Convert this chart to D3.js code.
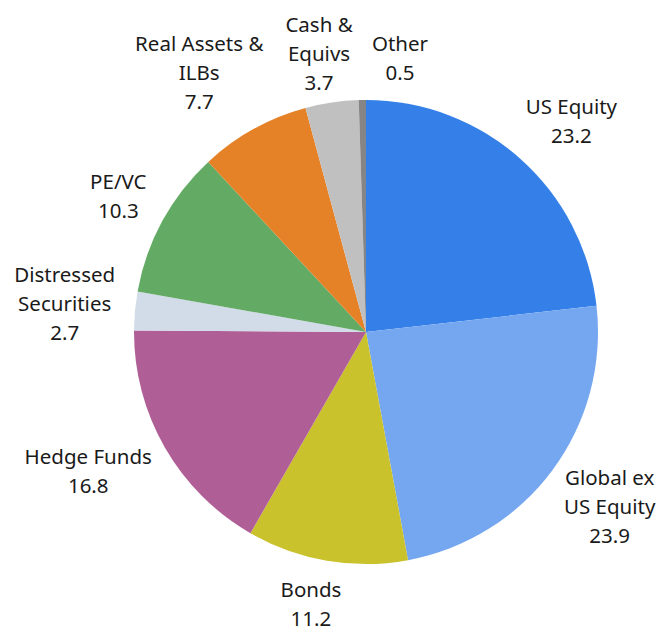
<!DOCTYPE html>
<html>
<head>
<meta charset="utf-8">
<script src="https://cdn.jsdelivr.net/npm/d3@7"></script>
<style>
  body { margin: 0; background: #fff; }
  text { font-family: "Noto Sans", Lato, sans-serif; font-size: 20.5px; fill: #1a1a1a; }
</style>
</head>
<body>
<div id="chart"></div>
<script>
// slice data, clockwise from 12 o'clock
var labels = [["US Equity"], ["Global ex", "US Equity"], ["Bonds"], ["Hedge Funds"],
  ["Distressed", "Securities"], ["PE/VC"], ["Real Assets &", "ILBs"], ["Cash &", "Equivs"], ["Other"]];
var values = [23.2, 23.9, 11.2, 16.8, 2.7, 10.3, 7.7, 3.7, 0.5];
var colors = ["#3580e8", "#75a7f0", "#c9c22c", "#b05f96", "#d2dbe8", "#63ab64", "#e58127", "#c0c0c0", "#858585"];

var W = 670, H = 635, cx = 366, cy = 332, r = 232;
var lineH = 29;

var svg = d3.select("#chart").append("svg").attr("width", W).attr("height", H);
var g = svg.append("g").attr("transform", "translate(" + cx + "," + cy + ")");

var pie = d3.pie().sort(null).value(function(d) { return d; });
var arcs = pie(values);
var arc = d3.arc().innerRadius(0).outerRadius(r);

g.selectAll("path").data(arcs).enter().append("path")
  .attr("d", arc)
  .attr("fill", function(d, i) { return colors[i]; });

// labels: build text, measure, then place box against the pie edge
var lab = g.selectAll("g.lab").data(arcs).enter().append("g").attr("class", "lab");
lab.each(function(d, i) {
  var el = d3.select(this);
  var lines = labels[i].concat([d3.format(".1f")(values[i])]);
  var t = el.append("text").attr("text-anchor", "middle");
  lines.forEach(function(s, k) {
    t.append("tspan").attr("x", 0).attr("y", k * lineH).text(s);
  });
  var bb = t.node().getBBox();
  d.w = bb.width; d.h = lines.length * lineH;
});

var gap = 20;
arcs.forEach(function(d) {
  var a = (d.startAngle + d.endAngle) / 2;
  var sx = Math.sin(a), sy = -Math.cos(a);
  d.x = sx * (r + gap) + Math.sign(sx) * Math.sqrt(Math.abs(sx)) * d.w / 2;
  d.y = sy * (r + gap) + sy * d.h / 2;
  // keep inside the picture
  d.y = Math.max(d.y, -cy + d.h / 2 + 3);
  d.y = Math.min(d.y, H - cy - d.h / 2 - 1);
});
// push small labels apart if they overlap (Other vs Cash)
for (var i = arcs.length - 1; i > 0; i--) {
  var a1 = arcs[i], b1 = arcs[i - 1];
  var overlapX = (a1.w + b1.w) / 2 + 22 - Math.abs(a1.x - b1.x);
  var overlapY = (a1.h + b1.h) / 2 - Math.abs(a1.y - b1.y);
  if (overlapX > 0 && overlapY > 0 && a1.x > b1.x - 1) {
    a1.x += overlapX; a1.y += 8;
  }
}

lab.select("text").attr("transform", function(d) {
  return "translate(" + d.x + "," + (d.y - d.h / 2 + lineH * 0.72) + ")";
});
</script>
</body>
</html>
